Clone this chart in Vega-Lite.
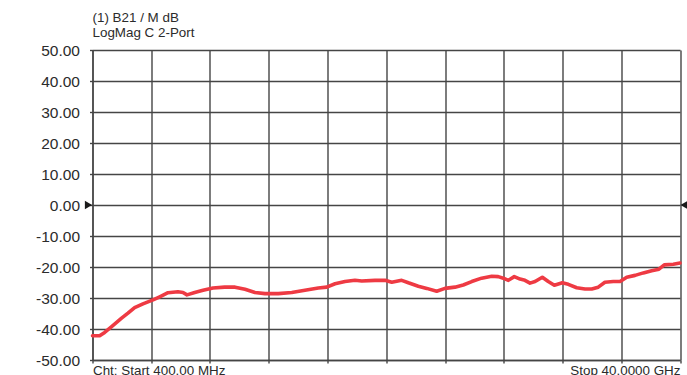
{
  "$schema": "https://vega.github.io/schema/vega-lite/v6.json",
  "width": 587.5,
  "height": 310,
  "autosize": {"type": "none"},
  "padding": {"left": 92.5, "top": 50, "right": 7, "bottom": 15},
  "background": "white",
  "config": {
    "view": {"stroke": null},
    "font": "Liberation Sans",
    "axis": {"labelOverlap": false, "labelSeparation": 0}
  },
  "title": {
    "text": ["(1) B21 / M dB", "LogMag C 2-Port"],
    "anchor": "start",
    "frame": "group",
    "fontSize": 13.4,
    "fontWeight": "normal",
    "color": "#2b2b2b",
    "lineHeight": 15,
    "offset": 4
  },
  "datasets": {
    "trace": [
      {"freq_ghz": 0.4, "level_db": -42.2},
      {"freq_ghz": 0.88, "level_db": -42.2},
      {"freq_ghz": 1.22, "level_db": -41.1},
      {"freq_ghz": 1.67, "level_db": -39.3},
      {"freq_ghz": 2.34, "level_db": -36.6},
      {"freq_ghz": 2.79, "level_db": -34.9},
      {"freq_ghz": 3.24, "level_db": -33.1},
      {"freq_ghz": 3.8, "level_db": -31.9},
      {"freq_ghz": 4.48, "level_db": -30.6},
      {"freq_ghz": 4.93, "level_db": -29.6},
      {"freq_ghz": 5.49, "level_db": -28.3},
      {"freq_ghz": 6.16, "level_db": -28.0},
      {"freq_ghz": 6.5, "level_db": -28.2},
      {"freq_ghz": 6.77, "level_db": -29.0},
      {"freq_ghz": 7.29, "level_db": -28.2},
      {"freq_ghz": 7.85, "level_db": -27.5},
      {"freq_ghz": 8.52, "level_db": -26.8},
      {"freq_ghz": 9.31, "level_db": -26.5},
      {"freq_ghz": 10.01, "level_db": -26.5},
      {"freq_ghz": 10.68, "level_db": -27.2},
      {"freq_ghz": 11.35, "level_db": -28.2},
      {"freq_ghz": 12.03, "level_db": -28.6},
      {"freq_ghz": 12.92, "level_db": -28.6},
      {"freq_ghz": 13.83, "level_db": -28.2},
      {"freq_ghz": 14.72, "level_db": -27.5},
      {"freq_ghz": 15.62, "level_db": -26.8},
      {"freq_ghz": 16.19, "level_db": -26.5},
      {"freq_ghz": 16.75, "level_db": -25.4},
      {"freq_ghz": 17.42, "level_db": -24.7},
      {"freq_ghz": 18.09, "level_db": -24.3},
      {"freq_ghz": 18.55, "level_db": -24.5},
      {"freq_ghz": 19.44, "level_db": -24.3},
      {"freq_ghz": 20.12, "level_db": -24.3},
      {"freq_ghz": 20.57, "level_db": -24.9},
      {"freq_ghz": 21.24, "level_db": -24.3},
      {"freq_ghz": 21.69, "level_db": -25.1},
      {"freq_ghz": 22.36, "level_db": -26.2},
      {"freq_ghz": 22.93, "level_db": -26.9},
      {"freq_ghz": 23.6, "level_db": -27.8},
      {"freq_ghz": 24.16, "level_db": -26.9},
      {"freq_ghz": 24.83, "level_db": -26.5},
      {"freq_ghz": 25.39, "level_db": -25.8},
      {"freq_ghz": 25.96, "level_db": -24.7},
      {"freq_ghz": 26.63, "level_db": -23.6},
      {"freq_ghz": 27.31, "level_db": -23.0},
      {"freq_ghz": 27.75, "level_db": -23.1},
      {"freq_ghz": 28.09, "level_db": -23.6},
      {"freq_ghz": 28.43, "level_db": -24.3},
      {"freq_ghz": 28.83, "level_db": -23.1},
      {"freq_ghz": 29.22, "level_db": -23.9},
      {"freq_ghz": 29.55, "level_db": -24.3},
      {"freq_ghz": 29.89, "level_db": -25.2},
      {"freq_ghz": 30.23, "level_db": -24.7},
      {"freq_ghz": 30.72, "level_db": -23.3},
      {"freq_ghz": 31.12, "level_db": -24.7},
      {"freq_ghz": 31.53, "level_db": -25.9},
      {"freq_ghz": 32.07, "level_db": -25.1},
      {"freq_ghz": 32.47, "level_db": -25.6},
      {"freq_ghz": 33.04, "level_db": -26.7},
      {"freq_ghz": 33.6, "level_db": -27.1},
      {"freq_ghz": 34.05, "level_db": -27.1},
      {"freq_ghz": 34.49, "level_db": -26.5},
      {"freq_ghz": 34.94, "level_db": -24.9},
      {"freq_ghz": 35.5, "level_db": -24.7},
      {"freq_ghz": 35.96, "level_db": -24.7},
      {"freq_ghz": 36.41, "level_db": -23.3},
      {"freq_ghz": 36.97, "level_db": -22.7},
      {"freq_ghz": 37.53, "level_db": -21.9},
      {"freq_ghz": 38.09, "level_db": -21.2},
      {"freq_ghz": 38.58, "level_db": -20.7},
      {"freq_ghz": 38.94, "level_db": -19.3},
      {"freq_ghz": 39.55, "level_db": -19.1},
      {"freq_ghz": 40.0, "level_db": -18.7}
    ],
    "reference": [
      {"freq_ghz": 0.4, "level_db": 0, "side": "left"},
      {"freq_ghz": 40.0, "level_db": 0, "side": "right"}
    ]
  },
  "encoding": {
    "x": {
      "field": "freq_ghz",
      "type": "quantitative",
      "scale": {"domain": [0.4, 40], "nice": false, "zero": false},
      "axis": {
        "values": [0.4, 4.36, 8.32, 12.28, 16.24, 20.2, 24.16, 28.12, 32.08, 36.04, 40],
        "grid": true,
        "gridColor": "#454545",
        "gridWidth": 1.4,
        "gridOpacity": 1,
        "domainColor": "#454545",
        "domainWidth": 1.4,
        "tickColor": "#454545",
        "tickWidth": 1.4,
        "tickSize": 3,
        "labelExpr": "datum.value < 1 ? 'Cht: Start 400.00 MHz' : (datum.value > 39 ? 'Stop 40.0000 GHz' : '')",
        "labelAlign": {"condition": {"test": "datum.value < 1", "value": "left"}, "value": "right"},
        "labelOverlap": false,
        "labelFlush": false,
        "labelBound": false,
        "labelFontSize": 13.4,
        "labelColor": "#2b2b2b",
        "labelPadding": 0.5,
        "title": null
      }
    },
    "y": {
      "field": "level_db",
      "type": "quantitative",
      "scale": {"domain": [-50, 50], "nice": false},
      "axis": {
        "values": [-50, -40, -30, -20, -10, 0, 10, 20, 30, 40, 50],
        "grid": true,
        "gridColor": "#454545",
        "gridWidth": 1.4,
        "gridOpacity": 1,
        "domainColor": "#454545",
        "domainWidth": 1.4,
        "tickColor": "#454545",
        "tickWidth": 1.4,
        "tickSize": 3,
        "labelExpr": "(datum.value < 0 ? '-' : '') + format(abs(datum.value), '.2f')",
        "labelOverlap": false,
        "labelFontSize": 15.5,
        "labelColor": "#2b2b2b",
        "labelPadding": 10,
        "title": null
      }
    }
  },
  "layer": [
    {
      "data": {"name": "trace"},
      "mark": {"type": "line", "color": "#ee3a43", "strokeWidth": 3.6, "strokeJoin": "round", "strokeCap": "round"}
    },
    {
      "data": {"name": "reference"},
      "transform": [{"filter": "datum.side == 'left'"}],
      "mark": {"type": "point", "shape": "triangle-right", "filled": true, "color": "#1a1a1a", "opacity": 1, "size": 70, "xOffset": -4}
    },
    {
      "data": {"name": "reference"},
      "transform": [{"filter": "datum.side == 'right'"}],
      "mark": {"type": "point", "shape": "triangle-left", "filled": true, "color": "#1a1a1a", "opacity": 1, "size": 70, "xOffset": 4}
    }
  ]
}
